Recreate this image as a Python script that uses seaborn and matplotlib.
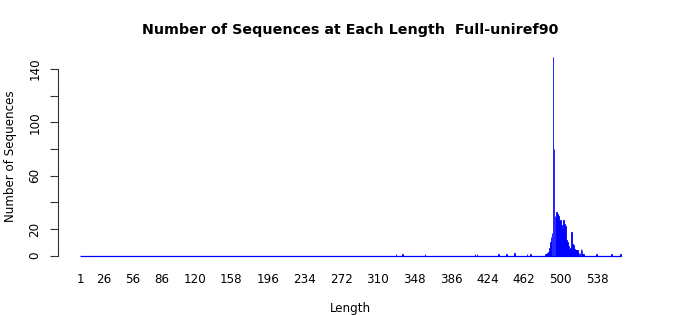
import matplotlib
matplotlib.use("Agg")
import matplotlib.pyplot as plt
import seaborn as sns
import numpy as np
import pandas as pd

# ---- data ----
max_length = 562
nonzero_lengths = [329, 336, 359, 411, 413, 435, 444, 452, 465, 469,
                   484, 485, 486, 487, 488, 489, 490, 491, 492, 493,
                   494, 495, 496, 497, 498, 499, 500, 501, 502, 503,
                   504, 505, 506, 507, 508, 509, 510, 511, 512, 513,
                   514, 515, 516, 517, 518, 519, 520, 521, 522, 523,
                   524, 537, 553, 562]
nonzero_counts = [1, 1, 1, 1, 1, 1, 1, 2, 1, 1,
                  1, 1, 2, 3, 6, 10, 14, 17, 149, 80,
                  30, 28, 33, 31, 30, 26, 27, 23, 20, 27,
                  24, 22, 12, 10, 7, 5, 6, 18, 9, 8,
                  5, 4, 4, 4, 3, 2, 2, 5, 4, 1,
                  1, 1, 1, 1]
x_tick_labels = [1, 26, 56, 86, 120, 158, 196, 234, 272, 310, 348, 386, 424, 462, 500, 538]
y_ticks = [0, 20, 40, 60, 80, 100, 120, 140]
y_tick_labels = ["0", "20", "", "60", "", "100", "", "140"]
title = "Number of Sequences at Each Length  Full-uniref90"

# build full table of lengths 1..max_length
all_lengths = list(range(1, max_length + 1))
count_map = dict(zip(nonzero_lengths, nonzero_counts))
df = pd.DataFrame({
    "Length": [str(l) for l in all_lengths],
    "Count": [count_map.get(l, 0) for l in all_lengths],
})

sns.set_style("white")
plt.rcParams["font.family"] = ["DejaVu Sans"]
plt.rcParams["text.color"] = "black"
plt.rcParams["axes.labelcolor"] = "black"
plt.rcParams["xtick.color"] = "black"
plt.rcParams["ytick.color"] = "black"

fig = plt.figure(figsize=(7, 3.15), dpi=100)
ax = fig.add_axes([58 / 700, 1 - 263.6 / 315, (642.5 - 58) / 700, (263.6 - 49) / 315])

bar_width = 0.833
sns.barplot(data=df, x="Length", y="Count", order=df["Length"].tolist(),
            color="#0000ff", saturation=1, width=bar_width, edgecolor="#0000ff",
            linewidth=0.6, errorbar=None, ax=ax)

n = len(all_lengths)
# zero-height bar borders form a continuous baseline in the original
ax.hlines(0, -bar_width / 2, n - 1 + bar_width / 2, color="#0000ff", linewidth=0.9)

# R-style 4% expansion
left_u, right_u = 0.2, 1.2 * n
span = right_u - left_u
xl = ((left_u - 0.04 * span) - 0.7) / 1.2
xr = ((right_u + 0.04 * span) - 0.7) / 1.2
ax.set_xlim(xl, xr)
ymax = max(nonzero_counts)
ax.set_ylim(-0.04 * ymax, ymax * 1.04)

ax.set_xticks([all_lengths.index(v) for v in x_tick_labels])
ax.set_xticklabels([str(v) for v in x_tick_labels], fontsize=8.6)
ax.tick_params(axis="x", length=0, pad=7)

ax.set_yticks(y_ticks)
ax.set_yticklabels(y_tick_labels, rotation=90, va="center", fontsize=8.6)
ax.tick_params(axis="y", length=6, width=0.8, color="#333333", pad=6, direction="out", left=True)

for s in ["top", "right", "bottom"]:
    ax.spines[s].set_visible(False)
ax.spines["left"].set_bounds(0, 140)
ax.spines["left"].set_color("#333333")
ax.spines["left"].set_linewidth(0.8)

ax.set_xlabel("Length", fontsize=8.6, labelpad=11)
ax.set_ylabel("Number of Sequences", fontsize=8.6, labelpad=8)
fig.text(350 / 700, 1 - 30 / 315, title, ha="center", va="center",
         fontsize=10.3, fontweight="bold")

ax.set_facecolor("white")
fig.patch.set_facecolor("white")
fig.savefig("out.png", dpi=100)
